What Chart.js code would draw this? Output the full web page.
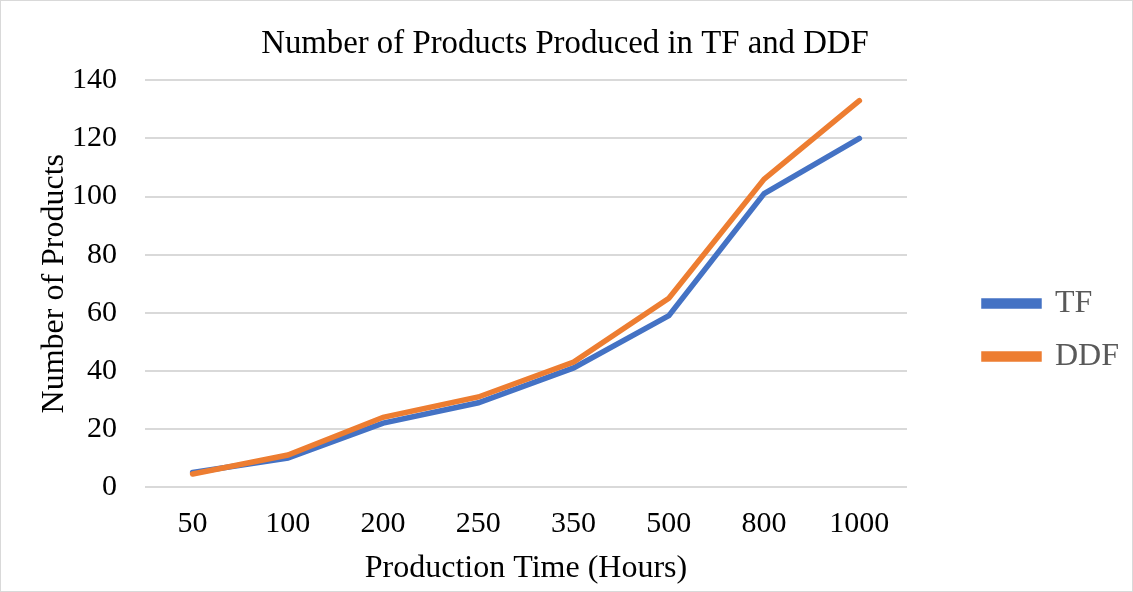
<!DOCTYPE html>
<html lang="en">
  <head>
    <meta charset="UTF-8" />
    <title>Number of Products Produced in TF and DDF</title>
    <script src="https://cdn.jsdelivr.net/npm/chart.js"></script>
    <style>
      html, body { margin: 0; padding: 0; background: #fff; }
      #wrap {
        position: absolute; left: 0; top: 0;
        width: 1131px; height: 590px;
        border: 1px solid #d9d9d9;
      }
    </style>
  </head>
  <body>
    <div id="wrap"><canvas id="myChart"></canvas></div>

    <script>
      // data
      const hours = ["50", "100", "200", "250", "350", "500", "800", "1000"];
      const tfValues = [5, 10, 22, 29, 41, 59, 101, 120];
      const ddfValues = [4.5, 11, 24, 31, 43, 65, 106, 133];
      const yTicks = [0, 20, 40, 60, 80, 100, 120, 140];

      const serif = "'Liberation Serif', 'Times New Roman', serif";

      var ctx = document.getElementById("myChart").getContext("2d");
      var chart = new Chart(ctx, {
        type: "line",
        data: {
          labels: hours,
          datasets: [
            {
              label: "TF",
              data: tfValues,
              borderColor: "#4472C4",
              backgroundColor: "#4472C4",
              borderWidth: 5.5,
              pointRadius: 0,
              borderCapStyle: "round",
              fill: false,
              order: 1
            },
            {
              label: "DDF",
              data: ddfValues,
              borderColor: "#ED7D31",
              backgroundColor: "#ED7D31",
              borderWidth: 5.5,
              pointRadius: 0,
              borderCapStyle: "round",
              fill: false,
              order: 0
            }
          ]
        },
        options: {
          responsive: true,
          maintainAspectRatio: false,
          animation: false,
          layout: { padding: { left: 0, right: 3, top: 24, bottom: 0 } },
          plugins: {
            title: {
              display: true,
              text: "Number of Products Produced in TF and DDF",
              color: "#000",
              font: { family: serif, size: 32.8, weight: "normal", lineHeight: 1.2 },
              padding: { top: 0, bottom: 16 }
            },
            legend: {
              position: "right",
              align: "center",
              // empty title only pushes the items down a little
              title: {
                display: true,
                text: " ",
                font: { size: 10, lineHeight: 1 },
                padding: { top: 34, bottom: 0 }
              },
              labels: {
                color: "#595959",
                font: { family: serif, size: 32 },
                boxWidth: 55,
                boxHeight: 5,
                padding: 21,
                sort: (a, b) => a.datasetIndex - b.datasetIndex
              }
            },
            tooltip: { enabled: false }
          },
          scales: {
            x: {
              offset: true,
              grid: { display: false, drawTicks: false },
              border: { display: false },
              ticks: {
                color: "#000",
                font: { family: serif, size: 30, lineHeight: 1.2 },
                padding: 19
              },
              title: {
                display: true,
                text: "Production Time (Hours)",
                color: "#000",
                font: { family: serif, size: 32, lineHeight: 1 },
                padding: { top: 11, bottom: 6 }
              },
              afterFit: (scale) => {
                scale.height = 104;
              }
            },
            y: {
              min: 0,
              max: 140,
              afterBuildTicks: (axis) => {
                axis.ticks = yTicks.map((v) => ({ value: v }));
              },
              grid: { color: "#d9d9d9", lineWidth: 2, drawTicks: false },
              border: { display: false },
              ticks: {
                color: "#000",
                font: { family: serif, size: 30 },
                padding: 28
              },
              title: {
                display: true,
                text: "Number of Products",
                color: "#000",
                font: { family: serif, size: 32, lineHeight: 1 },
                padding: { top: 38, bottom: 1 }
              },
              afterFit: (scale) => {
                scale.width = 144;
              }
            },
            // empty axis that only keeps the gap between plot and legend
            gap: {
              type: "linear",
              position: "right",
              display: true,
              grid: { display: false, drawTicks: false },
              border: { display: false },
              ticks: { display: false },
              afterFit: (scale) => {
                scale.width = 56;
              }
            }
          }
        }
      });
    </script>
  </body>
</html>
